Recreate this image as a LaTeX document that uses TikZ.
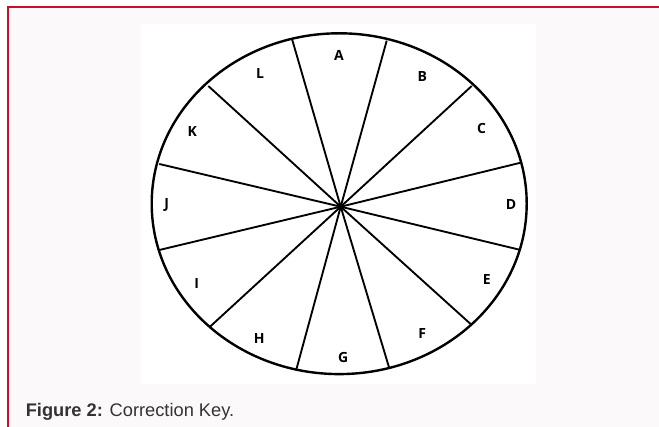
\documentclass[tikz,border=0pt]{standalone}
\usepackage{fontspec}
\setmainfont{Liberation Sans}
\newfontfamily\keyfont{Open Sans}
\usetikzlibrary{positioning}
\definecolor{framered}{HTML}{C8102E}
\definecolor{panelbg}{HTML}{FCF9FA}
\definecolor{captext}{HTML}{333333}
\begin{document}
\begin{tikzpicture}[x=0.75pt,y=-0.75pt,every node/.style={inner sep=0pt},
  seg/.style={font=\keyfont\bfseries\fontsize{10.5}{12}\selectfont}]
\useasboundingbox (0,0) rectangle (659,427);
\fill[white] (0,0) rectangle (659,427);
\fill[panelbg] (8,8) rectangle (659,427);
\draw[framered,line width=1.5pt] (8,427)--(8,7.5)--(659,7.5);
\fill[white] (141,24) rectangle (536,384);
% wheel
\coordinate (hub) at (340.7,206.7);
\coordinate (r0) at (292.3,40.0);
\coordinate (r1) at (386.7,40.7);
\coordinate (r2) at (471.7,86.0);
\coordinate (r3) at (520.7,162.7);
\coordinate (r4) at (520.7,250.0);
\coordinate (r5) at (471.7,325.0);
\coordinate (r6) at (389.3,368.3);
\coordinate (r7) at (296.0,370.7);
\coordinate (r8) at (210.0,326.7);
\coordinate (r9) at (159.3,250.0);
\coordinate (r10) at (159.3,164.0);
\coordinate (r11) at (208.3,86.0);
\foreach \i in {0,...,11}
  \draw[line width=1.4pt] (hub)--(r\i);
\draw[line width=1.8pt] (339.2,203.7) ellipse (187.5 and 170.4);
\fill (hub) circle (3.5);
\node[seg] (lA) at (339.0,55.0) {A};
\node[seg] (lB) at (422.3,76.7) {B};
\node[seg] (lC) at (481.7,128.3) {C};
\node[seg] (lD) at (511.0,204.3) {D};
\node[seg] (lE) at (486.7,280.0) {E};
\node[seg] (lF) at (422.3,333.3) {F};
\node[seg] (lG) at (343.3,357.7) {G};
\node[seg] (lH) at (259.3,339.0) {H};
\node[seg] (lI) at (196.7,284.0) {I};
\node[seg] (lJ) at (166.7,205.0) {J};
\node[seg] (lK) at (192.3,131.7) {K};
\node[seg] (lL) at (260.0,73.3) {L};
\node[anchor=base west,text=captext,font=\fontsize{13.7}{16}\selectfont] (cap) at (25.5,416)
  {\textbf{Figure 2:} Correction Key.};
\end{tikzpicture}
\end{document}
